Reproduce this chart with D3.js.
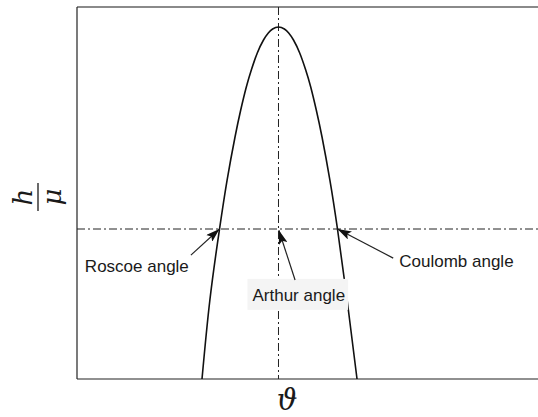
<!DOCTYPE html>
<html>
<head>
<meta charset="utf-8">
<script src="https://cdn.jsdelivr.net/npm/d3@7"></script>
<style>
  html, body { margin: 0; padding: 0; background: #fff; }
  svg { display: block; }
</style>
</head>
<body>
<script>
// Friction-angle curve: h/mu against theta (arbitrary units, 0..100)
const theta = [27.00, 28.70, 30.78, 32.42, 34.13, 35.36, 36.57, 37.65, 38.94, 40.28, 41.32, 42.25, 43.52,
               44.79, 45.72, 46.76, 48.10, 49.40, 50.48, 51.68, 52.92, 54.62, 56.26, 58.34, 60.48];
const hMu   = [0,     21.24, 40.32, 53.49, 65.05, 72.31, 78.49, 83.06, 87.63, 91.13, 93.01, 94.09, 94.62,
               94.09, 93.01, 91.13, 87.63, 83.06, 78.49, 72.31, 65.05, 53.49, 40.32, 21.24, 0];

// Reference lines
const peakTheta = 43.52;
const levelHMu = 40.32;

// Annotations: label, arrow tip, arrow tail, label anchor (data units)
const annoNames = ["Roscoe angle", "Arthur angle", "Coulomb angle"];
const annoTip   = [[30.78, 40.32], [43.6, 40.0], [56.26, 40.32]];
const annoTail  = [[24.6, 33.3], [47.1, 26.6], [68.3, 32.5]];
const annoText  = [[1.7, 28.8], [37.9, 21.0], [69.6, 30.1]];
const annoBoxed = [false, true, false];

const W = 538, H = 417;
const svg = d3.select("body").append("svg").attr("width", W).attr("height", H);

const x = d3.scaleLinear().domain([0, 100]).range([77, 540]);
const y = d3.scaleLinear().domain([0, 100]).range([379, 7]);

const dashDot = "8,3,2,3";

// Frame
svg.append("line").attr("x1", x(0)).attr("x2", x(100)).attr("y1", y(100)).attr("y2", y(100))
  .attr("stroke", "#8a8a8a").attr("stroke-width", 2.2);
svg.append("line").attr("x1", x(0)).attr("x2", x(0)).attr("y1", y(100)).attr("y2", y(0))
  .attr("stroke", "#222").attr("stroke-width", 1.2);
svg.append("line").attr("x1", x(0)).attr("x2", x(100)).attr("y1", y(0)).attr("y2", y(0))
  .attr("stroke", "#222").attr("stroke-width", 1.2);

// Dash-dot guides
svg.append("line").attr("x1", x(peakTheta)).attr("x2", x(peakTheta))
  .attr("y1", y(100)).attr("y2", y(0))
  .attr("stroke", "#222").attr("stroke-width", 1).attr("stroke-dasharray", dashDot);
svg.append("line").attr("x1", x(0)).attr("x2", x(100))
  .attr("y1", y(levelHMu)).attr("y2", y(levelHMu))
  .attr("stroke", "#222").attr("stroke-width", 1).attr("stroke-dasharray", dashDot);

// Curve
const pts = theta.map((t, i) => [t, hMu[i]]);
svg.append("path").datum(pts)
  .attr("d", d3.line().x(d => x(d[0])).y(d => y(d[1])).curve(d3.curveNatural))
  .attr("fill", "none").attr("stroke", "#111").attr("stroke-width", 1.6);

// Arrowhead marker
svg.append("defs").append("marker")
  .attr("id", "head").attr("viewBox", "0 0 14 9").attr("refX", 14).attr("refY", 4.5)
  .attr("markerWidth", 14).attr("markerHeight", 9).attr("markerUnits", "userSpaceOnUse")
  .attr("orient", "auto")
  .append("path").attr("d", "M0,0 L14,4.5 L0,9 L3,4.5 Z").attr("fill", "#111");

// Annotations
annoNames.forEach((name, i) => {
  const g = svg.append("g");
  const t = g.append("text")
    .attr("x", x(annoText[i][0])).attr("y", y(annoText[i][1]))
    .attr("font-family", "Liberation Sans, Arial, sans-serif")
    .attr("font-size", 17).attr("fill", "#1a1a1a")
    .text(name);
  if (annoBoxed[i]) {
    const b = t.node().getBBox();
    g.insert("rect", "text")
      .attr("x", b.x - 5).attr("y", b.y - 7)
      .attr("width", b.width + 8).attr("height", b.height + 12)
      .attr("fill", "#f4f4f4");
  }
  svg.append("line")
    .attr("x1", x(annoTail[i][0])).attr("y1", y(annoTail[i][1]))
    .attr("x2", x(annoTip[i][0])).attr("y2", y(annoTip[i][1]))
    .attr("stroke", "#222").attr("stroke-width", 1.2)
    .attr("marker-end", "url(#head)");
});

// Axis titles
const yt = svg.append("g").attr("transform", "translate(38,197) rotate(-90)");
yt.append("text").attr("x", 0).attr("y", -6).attr("text-anchor", "middle")
  .attr("font-family", "DejaVu Serif, serif").attr("font-style", "italic")
  .attr("font-size", 26).attr("fill", "#1a1a1a").text("h");
yt.append("line").attr("x1", -14).attr("x2", 14).attr("y1", 0).attr("y2", 0)
  .attr("stroke", "#1a1a1a").attr("stroke-width", 1.3);
yt.append("text").attr("x", 0).attr("y", 23).attr("text-anchor", "middle")
  .attr("font-family", "DejaVu Serif, serif").attr("font-style", "italic")
  .attr("font-size", 26).attr("fill", "#1a1a1a").text("μ");

svg.append("text").attr("x", 287).attr("y", 410).attr("text-anchor", "middle")
  .attr("font-family", "DejaVu Serif, serif").attr("font-style", "italic")
  .attr("font-size", 29).attr("fill", "#1a1a1a").text("ϑ");
</script>
</body>
</html>
